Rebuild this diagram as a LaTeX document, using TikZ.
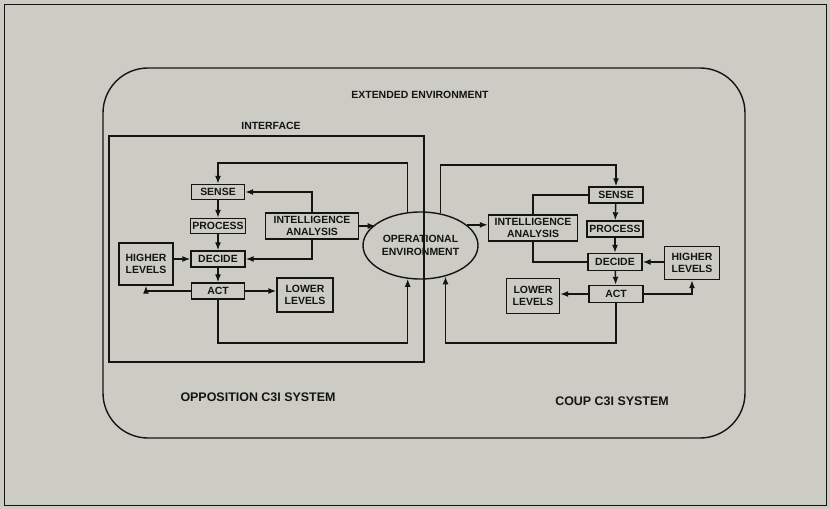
\documentclass[tikz,border=0pt]{standalone}
\usepackage{fontspec}
\setmainfont{Liberation Sans}
\usetikzlibrary{arrows.meta,shapes.geometric}
\definecolor{paper}{RGB}{204,204,197}
\definecolor{ink}{RGB}{20,20,20}
\begin{document}
\begin{tikzpicture}[x=1bp, y=-1bp, line width=1.4bp, draw=ink, text=ink,
  >={Latex[length=8bp,width=6bp]},
  box/.style={draw, inner sep=0pt, align=center, font=\bfseries\fontsize{10.5}{12.5}\selectfont},
  lbl/.style={font=\bfseries\fontsize{10.5}{12}\selectfont},
  sys/.style={font=\bfseries\fontsize{12.5}{14}\selectfont}]
\fill[paper] (0,0) rectangle (830,509);
\useasboundingbox (0,0) rectangle (830,509);
\draw[line width=0.8bp] (4,4) rectangle (826,505);
\draw[line width=1.4bp, rounded corners=45bp] (103,68) rectangle (745,438);
\node[lbl] (ext) at (420,95) {EXTENDED ENVIRONMENT};
\node[lbl] (intf) at (271,126) {INTERFACE};
\node[sys] (opp) at (258,397) {OPPOSITION C3I SYSTEM};
\node[sys] (coup) at (612,401) {COUP C3I SYSTEM};
% operational environment
\node[draw, ellipse, inner sep=0pt, minimum width=115bp, minimum height=67bp, align=center,
  font=\bfseries\fontsize{10.5}{12.5}\selectfont] (oe) at (420.5,245.5) {OPERATIONAL\\ENVIRONMENT};
% opposition side
\node[box, minimum width=53bp, minimum height=15bp] (sL) at (218,192) {SENSE};
\node[box, minimum width=55bp, minimum height=15bp] (pL) at (218,226) {PROCESS};
\node[box, minimum width=54bp, minimum height=16bp] (dL) at (218,259) {DECIDE};
\node[box, minimum width=53bp, minimum height=16bp] (aL) at (218,291) {ACT};
\node[box, minimum width=54bp, minimum height=42bp] (hL) at (146,264) {HIGHER\\LEVELS};
\node[box, minimum width=56bp, minimum height=34bp] (lL) at (305,295) {LOWER\\LEVELS};
\node[box, minimum width=93bp, minimum height=26bp] (iaL) at (312,226) {INTELLIGENCE\\ANALYSIS};
% coup side
\node[box, minimum width=54bp, minimum height=16bp] (sR) at (616,195) {SENSE};
\node[box, minimum width=56bp, minimum height=16bp] (pR) at (615,229) {PROCESS};
\node[box, minimum width=54bp, minimum height=17bp] (dR) at (615,262) {DECIDE};
\node[box, minimum width=54bp, minimum height=17bp] (aR) at (616,294) {ACT};
\node[box, minimum width=55bp, minimum height=33bp] (hR) at (692,263) {HIGHER\\LEVELS};
\node[box, minimum width=53bp, minimum height=35bp] (lR) at (533,296) {LOWER\\LEVELS};
\node[box, minimum width=89bp, minimum height=26bp] (iaR) at (533,228) {INTELLIGENCE\\ANALYSIS};
\coordinate (topL) at (0,163);
\coordinate (topR) at (0,165);
\coordinate (bot) at (0,343);
% interface
\draw[line width=2.8bp] (109,136) rectangle (424,362);
% opposition connectors
\draw[->] (oe.111) -- (oe.111 |- topL) -| (sL);
\draw[->] (sL) -- (pL);
\draw[->] (pL) -- (dL);
\draw[->] (dL) -- (aL);
\draw[->] (iaL.north) |- (sL);
\draw[->] (iaL.south) |- (dL);
\draw[->] (iaL.east) -- (iaL.east -| oe.154);
\draw[->] (hL.east |- dL) -- (dL);
\draw[->] (aL) -| (hL);
\draw[->] (aL.east) -- (aL.east -| lL.west);
\draw[->] (aL) -- (aL |- bot) -| (oe.249);
% coup connectors
\draw[->] (oe.58) -- (oe.58 |- topR) -| (sR);
\draw[->] (sR) -- (pR);
\draw[->] (pR) -- (dR);
\draw[->] (dR) -- (aR);
\draw (sR) -| (iaR);
\draw (dR) -| (iaR);
\draw[->] (oe.24) -- (oe.24 -| iaR.west);
\draw[->] (hR.west |- dR) -- (dR);
\draw[->] (aR) -| (hR);
\draw[->] (aR.west) -- (aR.west -| lR.east);
\draw[->] (aR) -- (aR |- bot) -| (oe.309);
\end{tikzpicture}
\end{document}
